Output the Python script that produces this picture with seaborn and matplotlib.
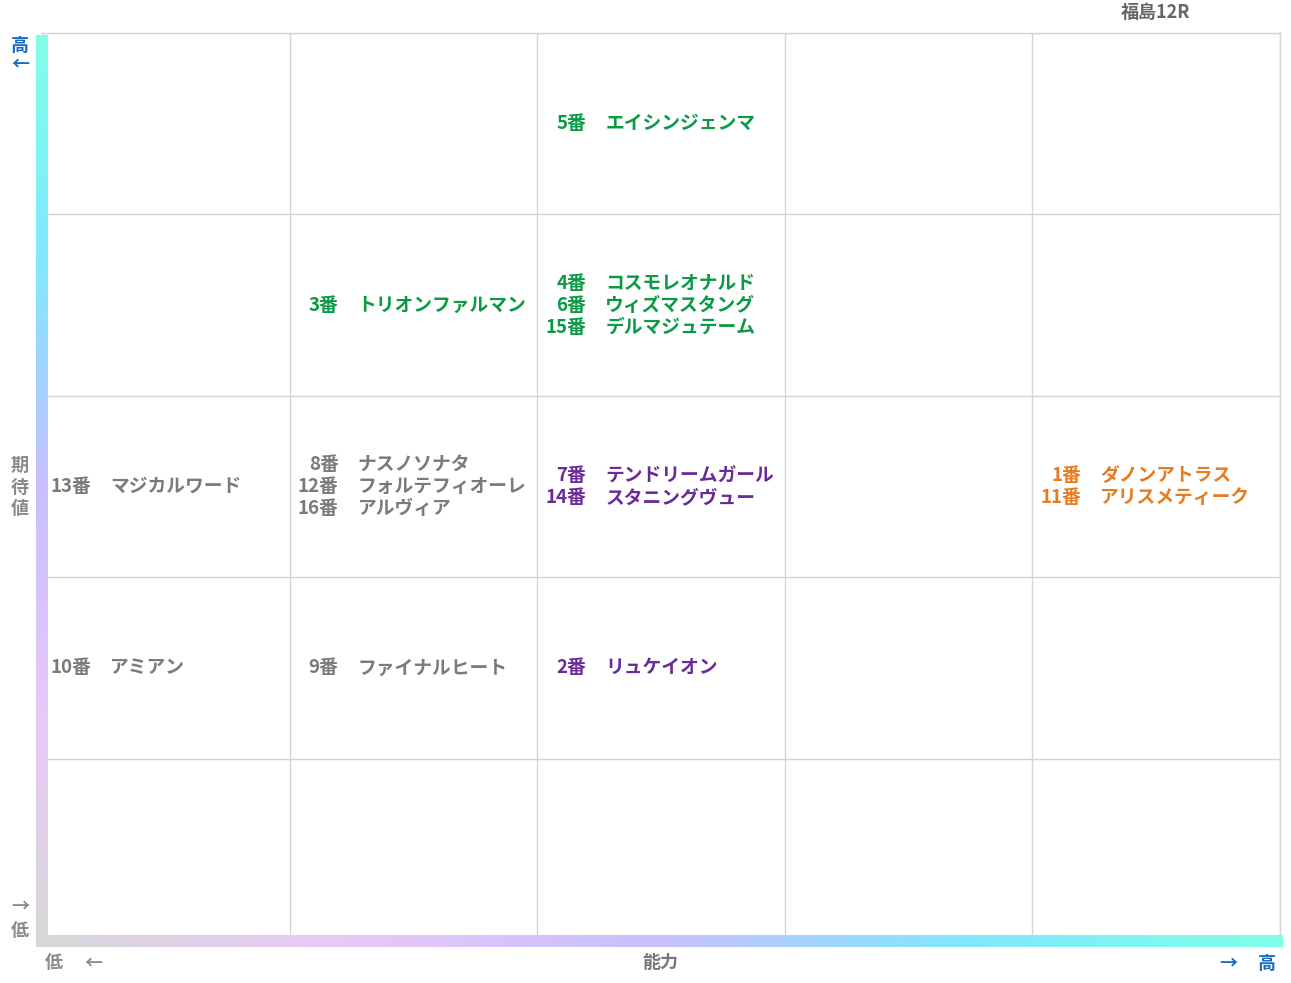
import numpy as np
import matplotlib
matplotlib.use("Agg")
import matplotlib.pyplot as plt
import seaborn as sns
from matplotlib.colors import LinearSegmentedColormap

sns.set_theme(style="white")
plt.rcParams['font.family'] = ['Noto Sans CJK JP', 'DejaVu Sans']

title = "福島12R"
x_label = "能力"
y_label = "期待値"
# horses: number, name, ability column (0-4), expectation row (0-4 from bottom), colour group
numbers = [5, 3, 4, 6, 15, 13, 8, 12, 16, 7, 14, 1, 11, 10, 9, 2]
names = ["エイシンジェンマ", "トリオンファルマン", "コスモレオナルド", "ウィズマスタング",
         "デルマジュテーム", "マジカルワード", "ナスノソナタ", "フォルテフィオーレ",
         "アルヴィア", "テンドリームガール", "スタニングヴュー", "ダノンアトラス",
         "アリスメティーク", "アミアン", "ファイナルヒート", "リュケイオン"]
cols = [2, 1, 2, 2, 2, 0, 1, 1, 1, 2, 2, 4, 4, 0, 1, 2]
rows = [4, 3, 3, 3, 3, 2, 2, 2, 2, 2, 2, 2, 2, 1, 1, 1]
groups = ["g", "g", "g", "g", "g", "n", "n", "n", "n", "p", "p", "o", "o", "n", "n", "p"]
palette = {"g": "#0a9a44", "n": "#7a7a7a", "p": "#6a2a9a", "o": "#e87a20"}

W, H = 1291, 983
fig = plt.figure(figsize=(W/100, H/100), dpi=100)
L, R, T, B = 42, 1280, 33, 940
ax = fig.add_axes([L/W, 1-B/H, (R-L)/W, (B-T)/H])
ax.set_xlim(0, 5); ax.set_ylim(0, 5)
ax.set_xticks(np.arange(6)); ax.set_yticks(np.arange(6))
ax.set_xticklabels([]); ax.set_yticklabels([])
ax.grid(True, color="#d4d4d4", lw=1)
for s in ax.spines.values():
    s.set_color("#d4d4d4"); s.set_linewidth(1)
ax.tick_params(length=0)

# group into cells
cells = {}
for n, nm, c, r, g in zip(numbers, names, cols, rows, groups):
    cells.setdefault((c, r), []).append((n, nm, g))
cw = (R-L)/5
for (c, r), items in cells.items():
    k = len(items)
    for i, (n, nm, g) in enumerate(items):
        ypx = (i - (k-1)/2) * 22
        yd = r + 0.5 - ypx / ((B-T)/5)
        ax.text(c + 49/cw, yd, f"{n}番", ha="right", va="center", fontsize=13.5,
                fontweight="bold", color=palette[g])
        ax.text(c + 68/cw, yd, nm, ha="left", va="center", fontsize=13.5,
                fontweight="bold", color=palette[g])

cmap = LinearSegmentedColormap.from_list("g", ["#d8d8d8", "#e8c8f8", "#c8c0ff", "#80e8ff", "#80ffe8"])
grad = np.linspace(0, 1, 256)
vax = fig.add_axes([36/W, 1-940/H, 12/W, (940-35)/H]); vax.axis("off")
vax.imshow(grad[::-1, None], aspect="auto", cmap=cmap)
hax = fig.add_axes([36/W, 1-947/H, (1283-36)/W, 12/H]); hax.axis("off")
hax.imshow(grad[None, :], aspect="auto", cmap=cmap)

blue = "#1a6bbf"; gray = "#8a8a8a"
def ft(x, y, s, c, **kw):
    fig.text(x/W, 1-y/H, s, color=c, fontsize=13, fontweight="bold", ha="center", va="center", **kw)
ft(1155, 12, title, "#666666")
ft(660, 963, x_label, "#777777")
ft(54, 963, "低", gray); ft(93, 963, "←", gray)
ft(1228, 963, "→", blue); ft(1267, 963, "高", blue)
ft(20, 45, "高", blue); ft(20, 64, "←", blue)
ft(20, 487, "期\n待\n値", gray, linespacing=1.2)
ft(20, 906, "→", gray); ft(20, 930, "低", gray)

fig.savefig("out.png", dpi=100, facecolor="white")
